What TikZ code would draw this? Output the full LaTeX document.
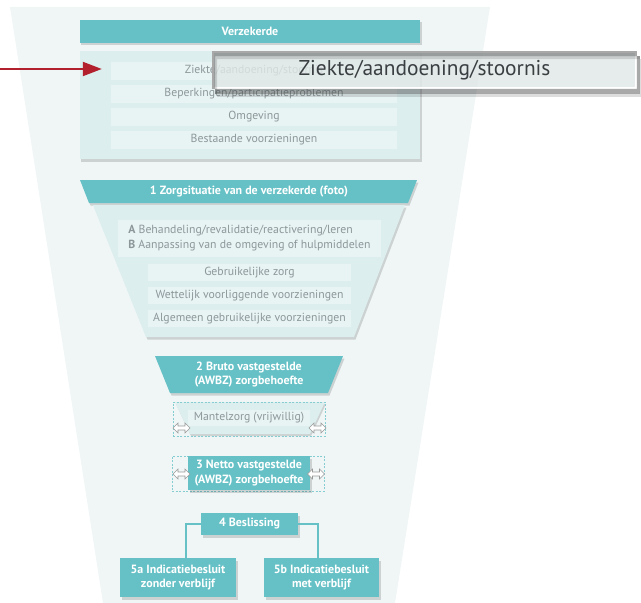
\documentclass[tikz,border=0pt]{standalone}
\usepackage{fontspec}
\setmainfont{PT Sans}
\usetikzlibrary{shadows,arrows.meta}
\definecolor{tealc}{HTML}{66C1C6}
\definecolor{panelc}{HTML}{DCEEEE}
\definecolor{rowc}{HTML}{E8F4F4}
\definecolor{bgc}{HTML}{F0F6F6}
\definecolor{txtc}{HTML}{8B9799}
\definecolor{calloutc}{HTML}{E1E7E7}
\definecolor{darktxt}{HTML}{3A3F42}
\definecolor{redc}{HTML}{B3202D}
\tikzset{
  tealbox/.style={fill=tealc, text=white, font=\fontsize{12}{14.5}\selectfont\bfseries, inner sep=0pt, align=center},
  rowbox/.style={fill=rowc, text=txtc, font=\fontsize{11.8}{14}\selectfont, inner sep=0pt},
  softshadow/.style={drop shadow={shadow xshift=1.5bp, shadow yshift=-2.5bp, opacity=0.15, fill=black}},
  dblsty/.style={fill=white, draw=black!40, line width=0.6bp, line join=miter},
  frame/.style={draw=tealc!80, dashed, line width=0.5bp, dash pattern=on 2bp off 1.5bp},
  conn/.style={draw=tealc, line width=1.6bp}
}
\newcommand\mydblarrow[1]{\draw[dblsty] (#1) ++(-8.5,0) -- ++(5,-5) -- ++(0,3) -- ++(7,0) -- ++(0,-3) -- ++(5,5) -- ++(-5,5) -- ++(0,-3) -- ++(-7,0) -- ++(0,3) -- cycle;}
\begin{document}
\begin{tikzpicture}[x=1bp,y=-1bp]
\useasboundingbox (0,0) rectangle (641,603);
% background funnel
\fill[bgc] (10,7) -- (490,7) -- (395,603) -- (103,603) -- cycle;

% Verzekerde
\node[tealbox, softshadow, minimum width=340bp, minimum height=23bp] (verz) at (250,31.5) {Verzekerde};
\node[fill=panelc, softshadow, minimum width=340bp, minimum height=108bp, inner sep=0pt] (panel0) at (250,105) {};
\node[rowbox, minimum width=286bp, minimum height=18bp] (r1) at (254,71) {Ziekte/aandoening/stoornis};
\node[rowbox, minimum width=286bp, minimum height=18bp] (r2) at (254,94) {Beperkingen/participatieproblemen};
\node[rowbox, minimum width=286bp, minimum height=18bp] (r3) at (254,117) {Omgeving};
\node[rowbox, minimum width=286bp, minimum height=18bp] (r4) at (254,140) {Bestaande voorzieningen};

% callout
\node[fill=calloutc, fill opacity=0.82, text opacity=1, draw=white, line width=1.8bp, text=darktxt,
      font=\fontsize{21.5}{24}\selectfont, minimum width=423bp, minimum height=36bp, inner sep=0pt] (callout) at (424.5,70) {Ziekte/aandoening/stoornis};
\fill[black!75, opacity=0.45, even odd rule]
  ([xshift=3bp,yshift=-5bp]callout.south west) rectangle ([xshift=3bp,yshift=-5bp]callout.north east)
  (callout.south west) rectangle (callout.north east);
\fill[black!75, opacity=0.18, even odd rule]
  ([xshift=5bp,yshift=-8bp]callout.south west) rectangle ([xshift=5bp,yshift=-8bp]callout.north east)
  ([xshift=3bp,yshift=-5bp]callout.south west) rectangle ([xshift=3bp,yshift=-5bp]callout.north east);

% red arrow
\coordinate (src) at (0,69);
\draw[redc, line width=2bp, -{Triangle[length=19bp,width=14bp]}, shorten >=9bp] (src) -- (src -| r1.west);

% Section 1
\fill[tealc, drop shadow={shadow xshift=1.5bp, shadow yshift=-2.5bp, opacity=0.15, fill=black}] (80,180) -- (417,180) -- (408,203) -- (89,203) -- cycle;
\node[tealbox] (h1) at (249,191.5) {1 Zorgsituatie van de verzekerde (foto)};
\fill[panelc, drop shadow={shadow xshift=1.5bp, shadow yshift=-2.5bp, opacity=0.15, fill=black}] (93,205) -- (405,205) -- (354,337) -- (146,337) -- cycle;
\node[fill=rowc, text=txtc, font=\fontsize{11.8}{15}\selectfont, align=left, minimum width=263bp, minimum height=37bp, inner sep=0pt] (ab) at (249.5,238.5)
  {\textbf{A} Behandeling/revalidatie/reactivering/leren\\ \textbf{B} Aanpassing van de omgeving of hulpmiddelen};
\node[rowbox, minimum width=203bp, minimum height=17bp] (g1) at (249.5,272.5) {Gebruikelijke zorg};
\node[rowbox, minimum width=203bp, minimum height=17bp] (g2) at (249.5,295.5) {Wettelijk voorliggende voorzieningen};
\node[rowbox, minimum width=203bp, minimum height=17bp] (g3) at (249.5,318.5) {Algemeen gebruikelijke voorzieningen};

% Section 2
\fill[tealc, drop shadow={shadow xshift=1.5bp, shadow yshift=-2.5bp, opacity=0.15, fill=black}] (155,356) -- (343,356) -- (328,393) -- (170,393) -- cycle;
\node[tealbox] (h2) at (249,374.5) {2 Bruto vastgestelde\\(AWBZ) zorgbehoefte};

% Mantelzorg
\fill[panelc, drop shadow={shadow xshift=1bp, shadow yshift=-2bp, opacity=0.15, fill=black}] (175,402) -- (325,402) -- (310,434) -- (190,434) -- cycle;
\node[frame, minimum width=152bp, minimum height=34bp, inner sep=0pt] (fr2) at (249,419) {};
\node[rowbox, minimum width=122bp, minimum height=16bp] (mz) at (249,417.5) {Mantelzorg (vrijwillig)};
\coordinate (d1l) at (181.5,428);
\coordinate (d1r) at (317.5,428);
\mydblarrow{d1l}
\mydblarrow{d1r}

% Section 3
\node[frame, minimum width=152bp, minimum height=35bp, inner sep=0pt] (fr3) at (248,473.5) {};
\node[tealbox, softshadow, minimum width=122bp, minimum height=34bp] (h3) at (249,473) {3 Netto vastgestelde\\(AWBZ) zorgbehoefte};
\coordinate (d2l) at (181.5,474);
\coordinate (d2r) at (316,474);
\mydblarrow{d2l}
\mydblarrow{d2r}

% Section 4
\node[tealbox, softshadow, minimum width=97bp, minimum height=22bp] (b4) at (249.5,524) {4 Beslissing};
\node[tealbox, softshadow, minimum width=116bp, minimum height=39bp] (n5a) at (178,577.5) {5a Indicatiebesluit\\zonder verblijf};
\node[tealbox, softshadow, minimum width=115bp, minimum height=39bp] (n5b) at (321.5,577.5) {5b Indicatiebesluit\\met verblijf};
\draw[conn] (b4.west) -| ([xshift=8bp]n5a.north);
\draw[conn] (b4.east) -| ([xshift=-3.5bp]n5b.north);
\end{tikzpicture}
\end{document}
